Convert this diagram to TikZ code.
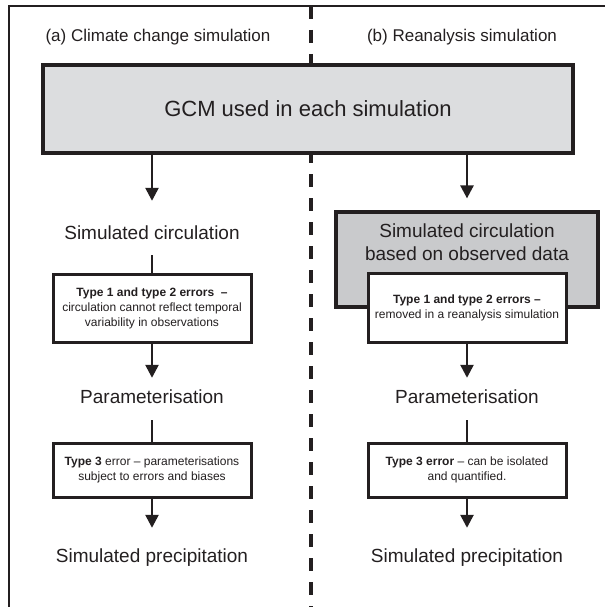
\documentclass[tikz,border=0pt]{standalone}
\usepackage{fontspec}
\setmainfont{Liberation Sans}
\usetikzlibrary{arrows.meta,positioning,calc}
\definecolor{ink}{HTML}{231F20}
\definecolor{gcmgrey}{HTML}{DCDDDF}
\definecolor{obsgrey}{HTML}{C9CACC}

\begin{document}
\begin{tikzpicture}[x=1pt,y=-1pt,
  every node/.style={text=ink},
  bigbox/.style={draw=ink,line width=3.2pt,inner sep=0pt},
  errbox/.style={draw=ink,line width=3pt,fill=white,minimum width=198pt,
    inner sep=0pt,align=center,font=\fontsize{12}{15}\selectfont},
  lbl/.style={inner sep=0pt,anchor=base,text height=14pt,text depth=0pt,
    font=\fontsize{19}{23}\selectfont},
  head/.style={inner sep=0pt,anchor=base,font=\fontsize{17}{20}\selectfont},
  arr/.style={draw=ink,line width=2.5pt,-{Triangle[length=13pt,width=13pt]}},
  link/.style={draw=ink,line width=2.5pt}]
  \useasboundingbox (0,0) rectangle (605,607);

  % frame and divider
  \draw[ink,line width=3.2pt,dash pattern=on 13pt off 11pt] (311,6) -- (311,607);
  \draw[ink,line width=2.6pt] (9,607) -- (9,6) -- (605,6);

  \node[head] (headA) at (158,42) {(a) Climate change simulation};
  \node[head] (headB) at (462,42) {(b) Reanalysis simulation};

  \node[bigbox,fill=gcmgrey,minimum width=530pt,minimum height=88pt,
    font=\fontsize{22}{26}\selectfont] (gcm) at (308,109) {GCM used in each simulation};

  % (a) climate change
  \node[lbl] (circA) at (152,239) {Simulated circulation};
  \node[errbox,minimum height=68pt] (errA) at (152,308)
    {\textbf{Type 1 and type 2 errors\ \ --}\\circulation cannot reflect temporal\\variability in observations};
  \node[lbl] (paramA) at (152,403) {Parameterisation};
  \node[errbox,minimum height=54pt] (biasA) at (152,470)
    {\textbf{Type 3} error -- parameterisations\\subject to errors and biases};
  \node[lbl] (precA) at (152,562) {Simulated precipitation};

  % (b) reanalysis
  \node[bigbox,fill=obsgrey,minimum width=262pt,minimum height=95pt] (obsB) at (467,259.5) {};
  \node[inner sep=0pt,anchor=north,align=center,font=\fontsize{19}{23}\selectfont]
    (obsText) at ($(obsB.north)+(0,13)$) {Simulated circulation\\based on observed data};
  \node[errbox,minimum height=69pt] (errB) at (467,307.5)
    {\textbf{Type 1 and type 2 errors --}\\removed in a reanalysis simulation};
  \node[lbl] (paramB) at (467,403) {Parameterisation};
  \node[errbox,minimum height=54pt] (biasB) at (467,470)
    {\textbf{Type 3 error} -- can be isolated\\and quantified.};
  \node[lbl] (precB) at (467,562) {Simulated precipitation};

  \draw[arr,shorten >=24pt] (gcm.south -| circA) -- (circA.north);
  \draw[link,shorten <=16pt] (circA.south) -- (errA.north);
  \draw[arr,shorten >=11pt] (errA.south) -- (paramA.north);
  \draw[link,shorten <=17pt] (paramA.south) -- (biasA.north);
  \draw[arr,shorten >=20pt] (biasA.south) -- (precA.north);

  \draw[arr,shorten >=12pt] (gcm.south -| obsB) -- (obsB.north);
  \draw[arr,shorten >=11pt] (errB.south) -- (paramB.north);
  \draw[link,shorten <=17pt] (paramB.south) -- (biasB.north);
  \draw[arr,shorten >=20pt] (biasB.south) -- (precB.north);
\end{tikzpicture}
\end{document}
